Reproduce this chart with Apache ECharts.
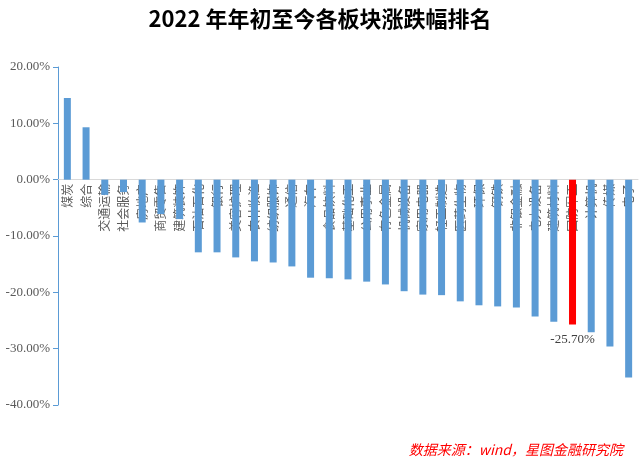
<!DOCTYPE html>
<html>
<head>
<meta charset="utf-8">
<script src="https://cdn.jsdelivr.net/npm/echarts@6/dist/echarts.min.js"></script>
<style>
html,body{margin:0;padding:0;background:#fff;}
#chart{width:640px;height:459px;}
</style>
</head>
<body>
<div id="chart"></div>
<script>
const titleText = '2022 年年初至今各板块涨跌幅排名';
const sourceText = '数据来源：wind，星图金融研究院';
const categories = ['煤炭','综合','交通运输','社会服务','房地产','商贸零售','建筑装饰','石油石化','银行','美容护理','农林牧渔','纺织服饰','通信','汽车','食品饮料','基础化工','公用事业','有色金属','机械设备','家用电器','轻工制造','医药生物','环保','钢铁','非银金融','电力设备','建筑材料','国防军工','计算机','传媒','电子'];
const values = [14.5, 9.3, -2.7, -2.2, -7.6, -6.1, -7.0, -12.9, -12.9, -13.8, -14.5, -14.7, -15.4, -17.4, -17.5, -17.7, -18.1, -18.6, -19.8, -20.4, -20.5, -21.6, -22.3, -22.5, -22.7, -24.3, -25.2, -25.70, -27.1, -29.6, -35.1];
const highlightName = '国防军工';
const yTicks = {min: -40, max: 20, interval: 10};

const gridTop = 67, gridBottom = 54, H = 459;
const plotH = H - gridTop - gridBottom;
// distance from bottom edge of the plot to the zero line, so the category axis sits on zero
const zeroOffset = plotH * (0 - yTicks.min) / (yTicks.max - yTicks.min);

const chart = echarts.init(document.getElementById('chart'), null, {renderer: 'canvas'});
const seriesData = categories.map((c, i) => {
  if (c === highlightName) {
    return {
      value: values[i],
      itemStyle: {color: '#FF0000'},
      label: {
        show: true, position: 'bottom', distance: 9,
        formatter: p => p.value.toFixed(2) + '%',
        fontFamily: '"Liberation Serif", serif', fontSize: 13, color: '#404040'
      }
    };
  }
  return values[i];
});

chart.setOption({
  animation: false,
  backgroundColor: '#ffffff',
  title: [{
    text: titleText, left: 'center', top: 3,
    textStyle: {fontFamily: '"Noto Sans CJK SC", sans-serif', fontWeight: 'bold', fontSize: 22, color: '#000000'}
  }, {
    text: sourceText, right: 12, top: 438,
    textStyle: {fontFamily: '"Noto Sans CJK SC", sans-serif', fontStyle: 'italic', fontWeight: 'normal', fontSize: 14, color: '#FF0000'}
  }],
  grid: {left: 58, right: 2, top: gridTop, bottom: gridBottom, containLabel: false},
  xAxis: {
    type: 'category', data: categories, position: 'bottom',
    offset: -zeroOffset,
    axisLine: {onZero: false, lineStyle: {color: '#D9D9D9', width: 1}},
    axisTick: {show: false},
    axisLabel: {
      rotate: 90, interval: 0, margin: 4,
      fontFamily: '"Noto Sans CJK SC", sans-serif', fontSize: 12, color: '#595959'
    }
  },
  yAxis: {
    type: 'value', min: yTicks.min, max: yTicks.max, interval: yTicks.interval,
    axisLine: {show: true, lineStyle: {color: '#5B9BD5', width: 1}},
    axisTick: {show: true, length: 5, lineStyle: {color: '#5B9BD5'}},
    splitLine: {show: false},
    axisLabel: {
      formatter: v => v.toFixed(2) + '%', margin: 8,
      fontFamily: '"Liberation Serif", serif', fontSize: 13, color: '#595959'
    }
  },
  series: [{
    type: 'bar', data: seriesData, barWidth: 7,
    itemStyle: {color: '#5B9BD5'}
  }]
});
</script>
</body>
</html>
